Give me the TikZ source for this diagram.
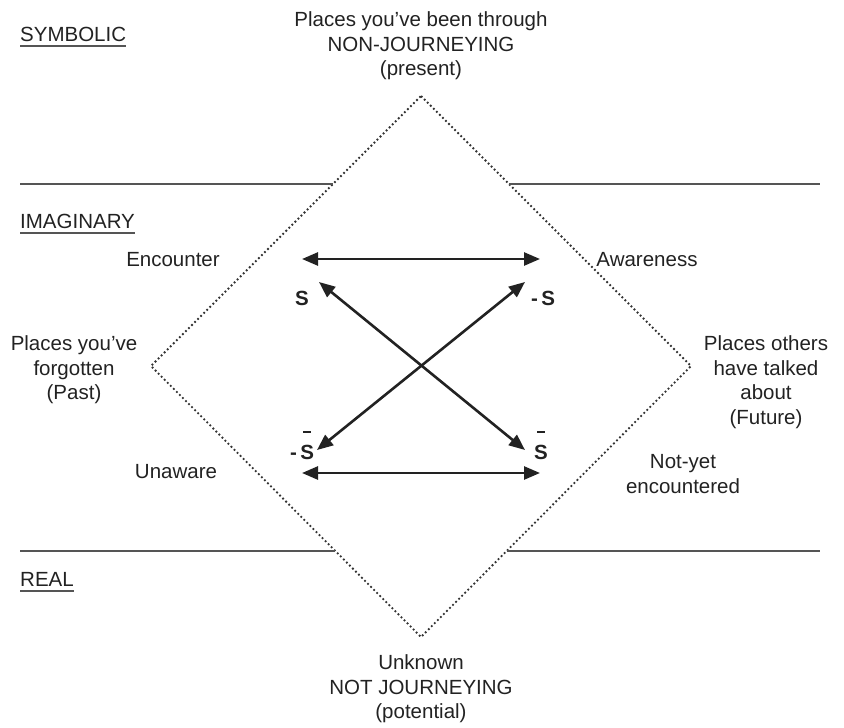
\documentclass[tikz,border=0pt]{standalone}
\usepackage{fontspec}
\setmainfont{Liberation Sans}
\usetikzlibrary{arrows.meta,calc}
\definecolor{ink}{HTML}{222222}
\definecolor{rule}{HTML}{555555}
\definecolor{dots}{HTML}{333333}
% an S with a short bar above it, drawn as a rule
\newcommand\barredS{\vbox{\hbox to \fontcharwd\font`S{\hss\vrule height 1.8pt width 8pt\hss}\kern 1.8pt\hbox{S}}}
\tikzset{
  lbl/.style={font=\fontsize{20.5}{24.5}\selectfont, text=ink, align=center, inner sep=0pt},
  level/.style={font=\fontsize{20.5}{24.5}\selectfont, text=ink, inner sep=0pt, anchor=base west},
  sym/.style={font=\fontsize{20.5}{24.5}\selectfont\bfseries, text=ink, inner sep=0pt},
  divider/.style={draw=rule, line width=1.5pt},
  underl/.style={draw=rule, line width=1.3pt},
  frame/.style={draw=dots, line width=1.8pt, dash pattern=on 1.8pt off 2.5pt},
  rel/.style={draw=ink, line width=2.6pt, {Triangle[length=16pt,width=13pt]}-{Triangle[length=16pt,width=13pt]}}
}
\begin{document}
\begin{tikzpicture}[x=1pt,y=-1pt]
\useasboundingbox (0,0) rectangle (844,728);

% semiotic square corners
\coordinate (top) at (421,96);
\coordinate (left) at (151,366);
\coordinate (right) at (691,366);
\coordinate (bottom) at (421,637);
\draw[frame] (top) -- (right) -- (bottom) -- (left) -- cycle;

% level dividers, meeting the square's edges
\coordinate (d1l) at (20,184);
\coordinate (d1a) at (333,184);
\coordinate (d1b) at (509,184);
\coordinate (d1r) at (820,184);
\coordinate (d2l) at (20,551);
\coordinate (d2a) at (335,551);
\coordinate (d2b) at (507,551);
\coordinate (d2r) at (820,551);
\draw[divider] (d1l) -- (d1a);
\draw[divider] (d1b) -- (d1r);
\draw[divider] (d2l) -- (d2a);
\draw[divider] (d2b) -- (d2r);

% level names
\node[level] (symb) at (20,41) {SYMBOLIC};
\node[level] (imag) at (20,228) {IMAGINARY};
\node[level] (real) at (20,586) {REAL};
\foreach \n in {symb,imag,real}
  \draw[underl] ($(\n.base west)+(0,5)$) -- ($(\n.base east)+(0,5)$);

% corner captions
\node[lbl] (present) at (421,46) {Places you’ve been through\\NON-JOURNEYING\\(present)};
\node[lbl] (potential) at (421,689) {Unknown\\NOT JOURNEYING\\(potential)};
\node[lbl] (past) at (74,370) {Places you’ve\\forgotten\\(Past)};
\node[lbl] (future) at (766,382) {Places others\\have talked\\about\\(Future)};

% relation captions
\node[lbl] (enc) at (173,260) {Encounter};
\node[lbl] (awa) at (647,260) {Awareness};
\node[lbl] (una) at (176,472) {Unaware};
\node[lbl] (nye) at (683,474) {Not-yet\\encountered};

% terms
\node[sym] (s) at (302,298) {S};
\node[sym] (ns) at (543,298) {-\,S};
\node[sym, anchor=base] (nsb) at (302,459) {-\,\barredS};
\node[sym, anchor=base] (sb) at (541,459) {\barredS};

% relation arrows
\coordinate (a1) at (302,259);
\coordinate (a2) at (540,259);
\coordinate (a3) at (302,473);
\coordinate (a4) at (540,473);
\coordinate (sTip) at (319,282);
\coordinate (sbTip) at (525,450);
\coordinate (nsTip) at (525,282);
\coordinate (nsbTip) at (317,450);
\draw[rel] (a1) -- (a2);
\draw[rel] (a3) -- (a4);
\draw[rel] (sTip) -- (sbTip);
\draw[rel] (nsTip) -- (nsbTip);
\end{tikzpicture}
\end{document}
